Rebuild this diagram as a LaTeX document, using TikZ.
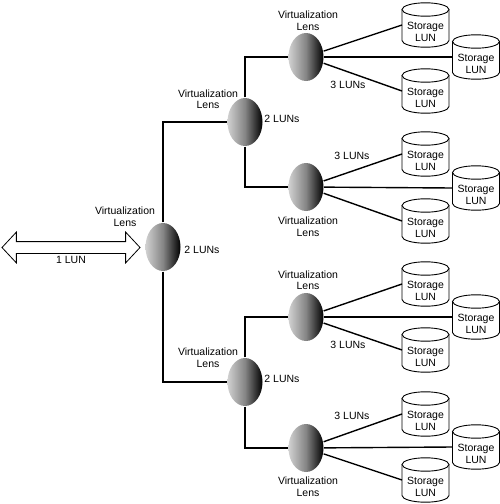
\documentclass[tikz,border=0pt]{standalone}
\usepackage{fontspec}
\setmainfont{Liberation Sans}
\usetikzlibrary{shapes.geometric,shapes.arrows}
\begin{document}
\begin{tikzpicture}[x=1pt, y=-1pt, line width=1.4pt,
  lens/.style={ellipse, minimum width=35pt, minimum height=48pt, inner sep=0pt,
               left color=black!18, right color=black, middle color=black!48},
  lbl/.style={align=center, inner sep=0pt, font=\fontsize{10.5}{11.5}\selectfont},
  lun/.pic={
    \draw[line width=0.9pt, fill=white] (-23.5,-15.5) -- (-23.5,15.5)
      arc[start angle=180, end angle=360, x radius=23.5pt, y radius=6.7pt]
      -- (23.5,-15.5);
    \draw[line width=0.9pt, fill=white] (0,-15.5) ellipse [x radius=23.5pt, y radius=6.7pt];
    \coordinate (-west) at (-23.5,0);
    \node[lbl] (-txt) at (0,7) {Storage\\LUN};
  },
]
\useasboundingbox (0,0) rectangle (500,504);
%% ---- lenses ----
\node[lens] (root) at (163,247) {};
\node[lens] (m1) at (245,122) {};
\node[lens] (m2) at (245,382) {};
\node[lens] (l1) at (306,57) {};
\node[lens] (l2) at (306,187) {};
\node[lens] (l3) at (306,317) {};
\node[lens] (l4) at (306,448) {};
%% ---- tree ----
\draw (root.north) |- (m1.west);
\draw (root.south) |- (m2.west);
\draw (m1.north) |- (l1.west);
\draw (m1.south) |- (l2.west);
\draw (m2.north) |- (l3.west);
\draw (m2.south) |- (l4.west);
%% ---- storage ----
\foreach \i/\a/\b/\c in {1/25/57/91,2/154/188/221,3/284/317/350,4/414/447/480} {
  \pic (s\i a) at (425.5,\a) {lun};
  \pic (s\i b) at (476,\b) {lun};
  \pic (s\i c) at (425.5,\c) {lun};
  \foreach \j in {a,b,c} \draw (l\i) -- (s\i\j-west);
}
%% ---- host side ----
\node[double arrow, draw, fill=white, line width=0.8pt, minimum height=138pt,
      double arrow head extend=9.5pt, double arrow tip angle=94,
      inner xsep=0pt, inner ysep=5.5pt] (host) at (71,247.5) {};
\node[lbl] (hostlbl) at (71,260) {1 LUN};
%% ---- labels ----
\node[lbl] (t0) at (125,216.5) {Virtualization\\Lens};
\node[lbl] (t1) at (208,99) {Virtualization\\Lens};
\node[lbl] (t2) at (208,357.5) {Virtualization\\Lens};
\node[lbl] (t3) at (308,20.5) {Virtualization\\Lens};
\node[lbl] (t4) at (308,226.5) {Virtualization\\Lens};
\node[lbl] (t5) at (308,280) {Virtualization\\Lens};
\node[lbl] (t6) at (308,486.5) {Virtualization\\Lens};
\node[lbl] (n0) at (202,250) {2 LUNs};
\node[lbl] (n1) at (282,119) {2 LUNs};
\node[lbl] (n2) at (282,379) {2 LUNs};
\node[lbl] (n3) at (348,85) {3 LUNs};
\node[lbl] (n4) at (352,156) {3 LUNs};
\node[lbl] (n5) at (348,345) {3 LUNs};
\node[lbl] (n6) at (352,416) {3 LUNs};
\end{tikzpicture}
\end{document}
